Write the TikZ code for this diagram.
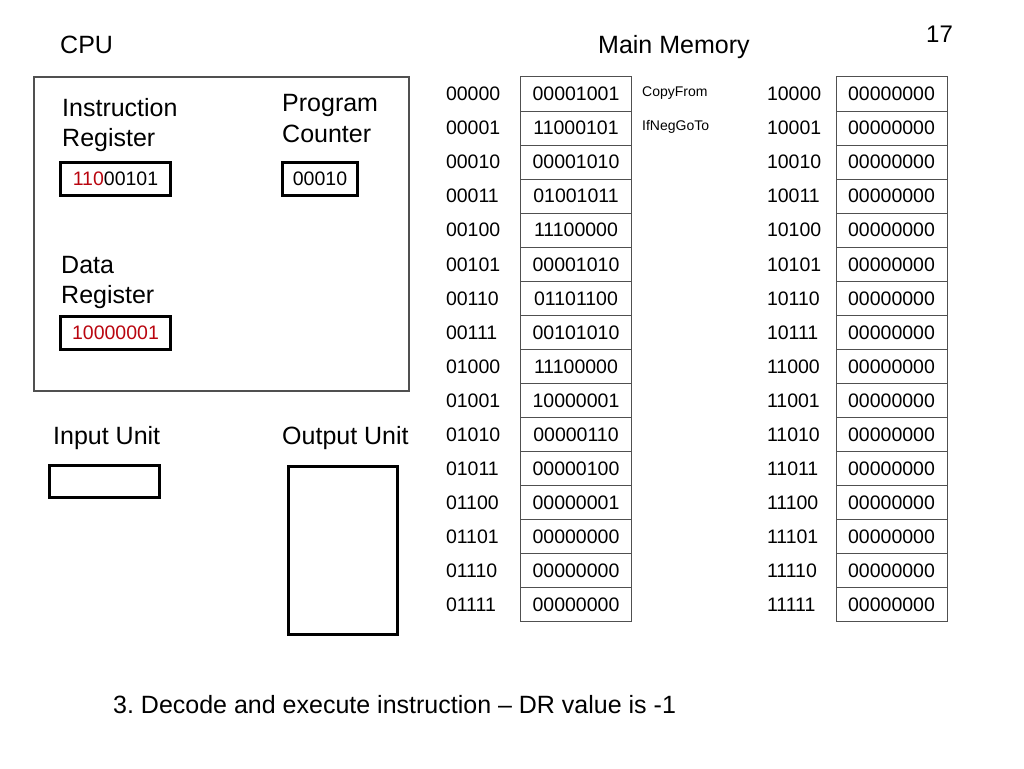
\documentclass[tikz,border=0pt]{standalone}
\usepackage{fontspec}
\setmainfont{Liberation Sans}
\frenchspacing
\definecolor{regred}{RGB}{185,5,15}
\definecolor{boxgray}{RGB}{80,80,80}
\begin{document}
\begin{tikzpicture}[x=1pt,y=-1pt,
  big/.style={font=\fontsize{25}{30}\selectfont, inner sep=0pt, anchor=base west},
  midtxt/.style={font=\fontsize{19.5}{23}\selectfont, inner sep=0pt, outer sep=0pt, anchor=west},
  small/.style={font=\fontsize{14}{17}\selectfont, inner sep=0pt, anchor=base west},
  regbox/.style={draw=black, line width=3pt, inner sep=0pt, outer sep=0pt, font=\fontsize{19.5}{23}\selectfont},
  cell/.style={draw=boxgray, line width=1pt, minimum width=111pt, minimum height=34.06pt, inner sep=0pt, outer sep=0pt, font=\fontsize{19.5}{23}\selectfont},
]
\useasboundingbox (0,0) rectangle (1024,768);

% titles
\node[big] (cpu) at (60,53) {CPU};
\node[big] (mm) at (598,53) {Main Memory};
\node[font=\fontsize{24}{28}\selectfont, inner sep=0pt, anchor=base west] (pg) at (926,42) {17};

% CPU box
\node[draw=boxgray, line width=1.2pt, minimum width=375pt, minimum height=314pt, inner sep=0pt, outer sep=0pt] (cpubox) at (221.5,234) {};

% register labels
\node[big] (irl1) at (62,116) {Instruction};
\node[big] (irl2) at (62,146) {Register};
\node[big] (pcl1) at (282,111) {Program};
\node[big] (pcl2) at (282,142) {Counter};
\node[big] (drl1) at (61,273) {Data};
\node[big] (drl2) at (61,303) {Register};

% registers
\node[regbox, minimum width=110pt, minimum height=33pt] (ir) at (115.5,179) {\textcolor{regred}{110}00101};
\node[regbox, minimum width=75pt, minimum height=33pt] (pc) at (320,179) {00010};
\node[regbox, minimum width=110pt, minimum height=33pt] (dr) at (115.5,333) {\textcolor{regred}{10000001}};

% I/O units
\node[big] (inl) at (53,444) {Input Unit};
\node[big] (outl) at (282,444) {Output Unit};
\node[regbox, minimum width=110pt, minimum height=32pt] (inbox) at (104.5,481.5) {};
\node[regbox, minimum width=109pt, minimum height=168pt] (outbox) at (343,550.5) {};

% memory, left half
\foreach \i/\a/\v in {0/00000/00001001, 1/00001/11000101, 2/00010/00001010, 3/00011/01001011,
  4/00100/11100000, 5/00101/00001010, 6/00110/01101100, 7/00111/00101010,
  8/01000/11100000, 9/01001/10000001, 10/01010/00000110, 11/01011/00000100,
  12/01100/00000001, 13/01101/00000000, 14/01110/00000000, 15/01111/00000000} {
  \node[cell] (mL\i) at (576,94+34.06*\i) {\v};
  \node[midtxt] (aL\i) at (446,94+34.06*\i) {\a};
}
% memory, right half
\foreach \i/\a in {0/10000, 1/10001, 2/10010, 3/10011, 4/10100, 5/10101, 6/10110, 7/10111,
  8/11000, 9/11001, 10/11010, 11/11011, 12/11100, 13/11101, 14/11110, 15/11111} {
  \node[cell] (mR\i) at (891.5,94+34.06*\i) {00000000};
  \node[midtxt] (aR\i) at (767,94+34.06*\i) {\a};
}

% annotations
\node[small] (copyfrom) at (642,96) {CopyFrom};
\node[small] (ifneg) at (642,130) {IfNegGoTo};

% caption
\node[big] (cap) at (113,713) {3. Decode and execute instruction – DR value is -1};
\end{tikzpicture}
\end{document}
